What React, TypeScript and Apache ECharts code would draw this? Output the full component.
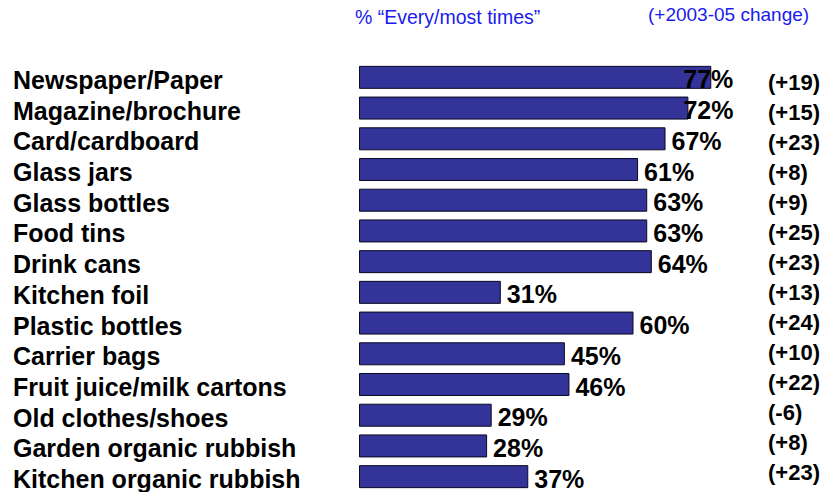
import React, { useEffect, useRef } from "react";
import * as echarts from "echarts";

const categories = [
  "Newspaper/Paper",
  "Magazine/brochure",
  "Card/cardboard",
  "Glass jars",
  "Glass bottles",
  "Food tins",
  "Drink cans",
  "Kitchen foil",
  "Plastic bottles",
  "Carrier bags",
  "Fruit juice/milk cartons",
  "Old clothes/shoes",
  "Garden organic rubbish",
  "Kitchen organic rubbish",
];
const values = [77, 72, 67, 61, 63, 63, 64, 31, 60, 45, 46, 29, 28, 37];
const changes = [
  "(+19)", "(+15)", "(+23)", "(+8)", "(+9)", "(+25)", "(+23)",
  "(+13)", "(+24)", "(+10)", "(+22)", "(-6)", "(+8)", "(+23)",
];
const headerLeft = "% \u201cEvery/most times\u201d";
const headerRight = "(+2003-05 change)";

const FONT = "'Liberation Sans', Arial, Helvetica, sans-serif";

export default function App() {
  const ref = useRef<HTMLDivElement>(null);
  useEffect(() => {
    if (!ref.current) return;
    const chart = echarts.init(ref.current, null, { renderer: "svg" });
    const labelOffsets: Record<number, number> = { 0: -34, 1: -11 };
    chart.setOption({
      animation: false,
      backgroundColor: "#ffffff",
      graphic: [
        {
          type: "text",
          left: 355,
          top: 7,
          style: { text: headerLeft, font: `19.5px ${FONT}`, fill: "#1a1aee" },
        },
        {
          type: "text",
          left: 648,
          top: 5,
          style: { text: headerRight, font: `19px ${FONT}`, fill: "#1a1aee" },
        },
      ],
      grid: [
        { left: 359, right: 11.5, top: 62, bottom: 0 },
        { left: 768, right: 0, top: 68, bottom: 5 },
      ],
      xAxis: [
        { type: "value", gridIndex: 0, min: 0, max: 100, show: false },
        { type: "value", gridIndex: 1, min: 0, max: 1, show: false },
      ],
      yAxis: [
        {
          type: "category",
          gridIndex: 0,
          inverse: true,
          data: categories,
          axisLine: { show: false },
          axisTick: { show: false },
          axisLabel: {
            interval: 0,
            align: "left",
            verticalAlign: "top",
            lineHeight: 5,
            margin: 346,
            fontSize: 25,
            fontWeight: "bold",
            fontFamily: FONT,
            color: "#000",
          },
        },
        {
          type: "category",
          gridIndex: 1,
          inverse: true,
          data: changes,
          axisLine: { show: false },
          axisTick: { show: false },
          axisLabel: {
            interval: 0,
            inside: true,
            align: "left",
            margin: 0,
            fontSize: 22,
            fontWeight: "bold",
            fontFamily: FONT,
            color: "#000",
          },
        },
      ],
      series: [
        {
          type: "bar",
          xAxisIndex: 0,
          yAxisIndex: 0,
          barWidth: 23,
          data: values.map((v, i) => ({
            value: v,
            label: { offset: [labelOffsets[i] ?? 0, 2] },
          })),
          itemStyle: { color: "#333399", borderColor: "#0a0a20", borderWidth: 1 },
          label: {
            show: true,
            position: "right",
            distance: 6,
            formatter: "{c}%",
            fontSize: 25,
            fontWeight: "bold",
            fontFamily: FONT,
            color: "#000",
          },
        },
      ],
    });
    return () => chart.dispose();
  }, []);
  return (
    <div
      ref={ref}
      style={{ position: "fixed", left: 0, top: 0, width: 828, height: 492 }}
    />
  );
}
